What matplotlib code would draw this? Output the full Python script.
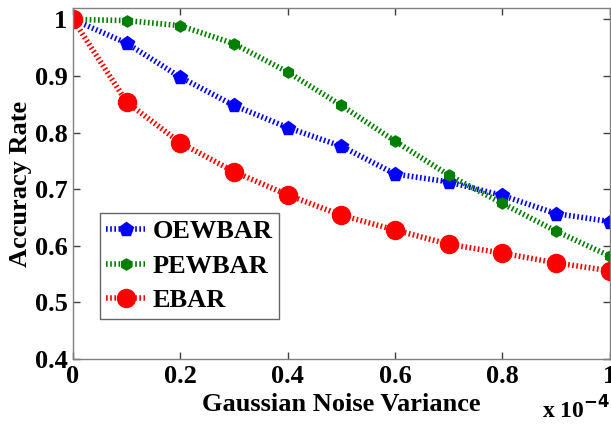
import numpy as np
import matplotlib.pyplot as plt

# ─── Data ──────────────────────────────────────────────────────────
noise_var = [0.0, 0.1, 0.2, 0.3, 0.4, 0.5, 0.6, 0.7, 0.8, 0.9, 1.0]   # x 1e-4
oewbar = [1.000, 0.958, 0.898, 0.848, 0.809, 0.776, 0.727, 0.713, 0.689, 0.657, 0.643]
pewbar = [1.000, 0.998, 0.989, 0.957, 0.907, 0.848, 0.785, 0.725, 0.675, 0.626, 0.582]
ebar   = [1.000, 0.854, 0.782, 0.731, 0.690, 0.654, 0.628, 0.603, 0.587, 0.570, 0.556]
x_ticks = [0, 0.2, 0.4, 0.6, 0.8, 1]
x_tick_labels = ["0", "0.2", "0.4", "0.6", "0.8", "1"]
y_ticks = [0.4, 0.5, 0.6, 0.7, 0.8, 0.9, 1.0]
y_tick_labels = ["0.4", "0.5", "0.6", "0.7", "0.8", "0.9", "1"]
# ────────────────────────────────────────────────────────────────────

plt.rc('font', family='serif', serif=['Liberation Serif'], weight='bold')

fig = plt.figure(figsize=(6.11, 4.28), dpi=100)
ax = fig.add_axes([0.1195, 0.161, 0.8785, 0.820])

dots = (0, (0.3, 0.45))
ax.plot(noise_var, oewbar, color='#0000ff', lw=4, ls=dots, dash_capstyle='butt',
        marker='p', ms=10, label='OEWBAR')
ax.plot(noise_var, pewbar, color='#007f00', lw=4, ls=dots, dash_capstyle='butt',
        marker='h', ms=8, label='PEWBAR')
ax.plot(noise_var, ebar, color='#ff0000', lw=4, ls=dots, dash_capstyle='butt',
        marker='o', ms=13, label='EBAR')

ax.set_xlim(0, 1)
ax.set_ylim(0.4, 1.02)
ax.set_xticks(x_ticks)
ax.set_xticklabels(x_tick_labels)
ax.set_yticks(y_ticks)
ax.set_yticklabels(y_tick_labels)
ax.tick_params(direction='in', top=True, right=True, length=5, width=1,
               color='#404040', labelsize=19, pad=4)
for s in ax.spines.values():
    s.set_color('#808080')
    s.set_linewidth(1)

ax.set_xlabel('Gaussian Noise Variance', fontsize=19, fontweight='bold', labelpad=4)
ax.set_ylabel('Accuracy Rate', fontsize=19, fontweight='bold', labelpad=2)
fig.text(0.998, 0.01, r'x 10$^{\mathbf{-4}}$', ha='right', va='bottom',
         fontsize=17, fontweight='bold')

leg = ax.legend(loc='lower left', bbox_to_anchor=(0.05, 0.114), fontsize=19,
                frameon=True, fancybox=False, handlelength=1.45, handletextpad=0.3,
                borderpad=0.25, labelspacing=0.42, borderaxespad=0)
leg.get_frame().set_edgecolor('#404040')
leg.get_frame().set_linewidth(1)

fig.savefig('out.png', dpi=100)
